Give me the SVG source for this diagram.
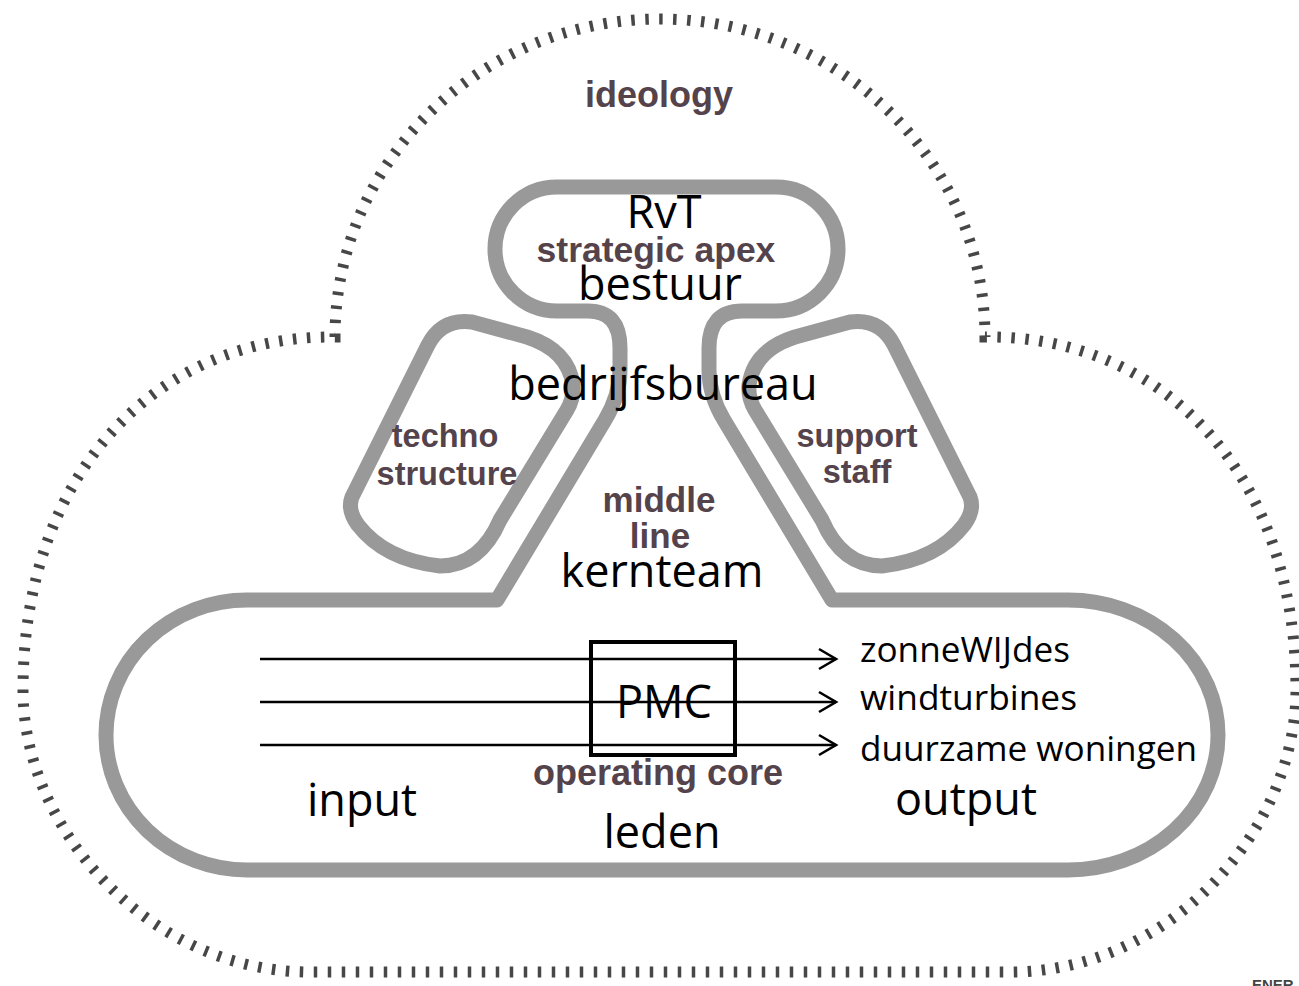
<svg xmlns="http://www.w3.org/2000/svg" width="1299" height="986" viewBox="0 0 1299 986">
  <style>
    .cloud { fill: none; stroke: #474747; stroke-width: 11; stroke-dasharray: 3.5 10.5; }
    .part { fill: none; stroke: #999999; stroke-width: 15; stroke-linejoin: round; }
    .gl { font-family: "Liberation Sans", Arial, sans-serif; font-weight: bold; fill: #55434c; text-anchor: middle; }
    .bl { font-family: "Open Sans", "Liberation Sans", sans-serif; fill: #000000; text-anchor: middle; font-size: 45px; }
    .sm { font-family: "Open Sans", "Liberation Sans", sans-serif; fill: #000000; font-size: 34px; }
    .flow { stroke: #000000; stroke-width: 2.6; fill: none; }
  </style>
  <defs>
    <marker id="chev" markerUnits="userSpaceOnUse" markerWidth="22" markerHeight="24" viewBox="0 0 22 24" refX="19" refY="12" orient="auto">
      <path d="M2,2 L19,12 L2,22" fill="none" stroke="#000000" stroke-width="2.6"/>
    </marker>
  </defs>
  <rect width="1299" height="986" fill="#ffffff"/>

  <g id="ideology">
    <path class="cloud" d="M 335,337 A 325,318 0 0 1 985,337 C 1160,335 1296,470 1296,690 C 1296,830 1170,972 1010,972 L 310,972 C 150,972 23,830 23,690 C 23,470 160,335 335,337 Z"/>
    <text class="gl" x="659" y="107" font-size="36">ideology</text>
  </g>

  <g id="core-structure">
    <path class="part" d="M 247,600 L 497,600 L 605,420 Q 620,395 620,370 L 620,348 Q 620,311 588,311 L 557,311 A 62,62 0 0 1 557,187 L 776,187 A 62,62 0 0 1 776,311 L 742,311 Q 709,311 709,348 L 709,370 Q 709,395 724,420 L 832,600 L 1068,600 A 150,135 0 0 1 1068,870 L 247,870 A 141,135 0 0 1 247,600 Z"/>
  </g>

  <g id="techno-structure">
    <path class="part" d="M 352,497 L 428,345 Q 442,318 472,322 L 527,337 Q 568,350 573,385 Q 574,398 567,410 L 500,520 Q 480,566 440,566 Q 385,560 358,525 Q 347,510 352,497 Z"/>
    <text class="gl" x="445" y="447" font-size="32.5">techno</text>
    <text class="gl" x="447" y="485" font-size="32.5">structure</text>
  </g>

  <g id="support-staff">
    <path class="part" transform="translate(1322,0) scale(-1,1)" d="M 352,497 L 428,345 Q 442,318 472,322 L 527,337 Q 568,350 573,385 Q 574,398 567,410 L 500,520 Q 480,566 440,566 Q 385,560 358,525 Q 347,510 352,497 Z"/>
    <text class="gl" x="857" y="447" font-size="32.5">support</text>
    <text class="gl" x="857" y="483" font-size="32.5">staff</text>
  </g>

  <g id="strategic-apex">
    <text class="bl" x="664" y="228">RvT</text>
    <text class="gl" x="656" y="262" font-size="35.5">strategic apex</text>
    <text class="bl" x="660" y="300">bestuur</text>
  </g>

  <g id="middle-line">
    <text class="bl" x="663" y="400">bedrijfsbureau</text>
    <text class="gl" x="659" y="512" font-size="35">middle</text>
    <text class="gl" x="660" y="548" font-size="35">line</text>
    <text class="bl" x="662" y="587">kernteam</text>
  </g>

  <g id="pmc">
    <rect x="591" y="642" width="144" height="113" fill="none" stroke="#000000" stroke-width="4"/>
    <text class="bl" x="664" y="718">PMC</text>
  </g>

  <g id="connectors">
    <line class="flow" x1="260" y1="659" x2="836" y2="659" marker-end="url(#chev)"/>
    <line class="flow" x1="260" y1="702" x2="836" y2="702" marker-end="url(#chev)"/>
    <line class="flow" x1="260" y1="745" x2="836" y2="745" marker-end="url(#chev)"/>
  </g>

  <g id="operating-core">
    <text class="sm" x="860" y="662" textLength="210" lengthAdjust="spacingAndGlyphs">zonneWIJdes</text>
    <text class="sm" x="860" y="710" textLength="217" lengthAdjust="spacingAndGlyphs">windturbines</text>
    <text class="sm" x="860" y="761" textLength="337" lengthAdjust="spacingAndGlyphs">duurzame woningen</text>
    <text class="gl" x="658" y="785" font-size="36">operating core</text>
    <text class="bl" x="362" y="816">input</text>
    <text class="bl" x="966" y="815">output</text>
    <text class="bl" x="662" y="848">leden</text>
  </g>

  <g id="footer">
    <text x="1252" y="990" font-family="Liberation Sans, Arial, sans-serif" font-weight="bold" font-size="15" fill="#444444">ENER</text>
  </g>
</svg>
